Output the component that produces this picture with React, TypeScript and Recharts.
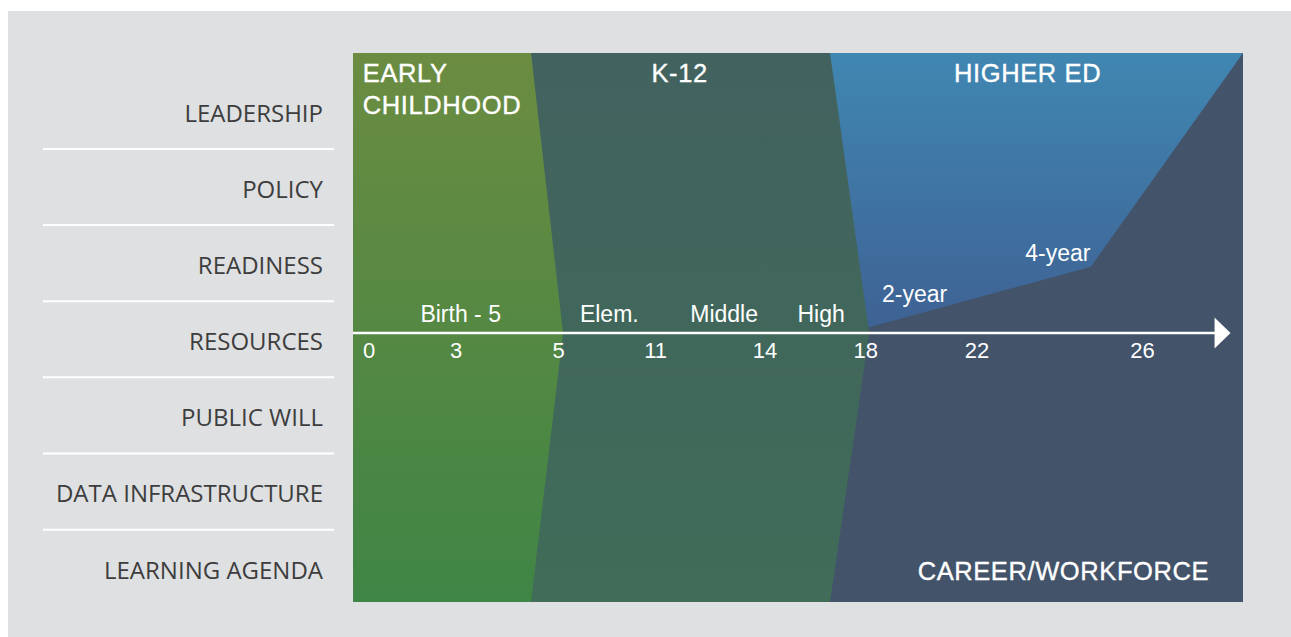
import React from 'react';
import { ComposedChart, Area, Scatter, XAxis, YAxis, ReferenceLine, ReferenceArea } from 'recharts';

// Left-hand rows
const rowLabels = ['LEADERSHIP', 'POLICY', 'READINESS', 'RESOURCES', 'PUBLIC WILL', 'DATA INFRASTRUCTURE', 'LEARNING AGENDA'];

// Timeline: 0 = left edge of the diagram, 100 = right edge
const ageLabels = ['0', '3', '5', '11', '14', '18', '22', '26'];
const agePos = [1.8, 11.6, 23.1, 34.0, 46.3, 57.6, 70.1, 88.7];

const stageLabels = ['Birth - 5', 'Elem.', 'Middle', 'High'];
const stagePos = [12.1, 28.8, 41.7, 52.6];

const trackLabels = ['2-year', '4-year'];
const trackPos = [63.1, 79.2];
const trackLevel = [11.1, 25.8];

// Vertical level: 100 = top, 0 = timeline, -96 = bottom
// Each sector is a band [low, high] at a few timeline positions
const earlyPos = [0, 20.0, 23.6];
const earlyLow = [-96, -96, 0];
const earlyHigh = [100, 100, 0];

const k12Pos = [0, 53.6, 58.0];
const k12Low = [-96, -96, 0];
const k12High = [100, 100, 0];

const higherEdPos = [53.6, 58.0, 82.9, 100];
const higherEdLow = [2.1, 2.1, 23.7, 100];
const higherEdHigh = [100, 100, 100, 100];

const sectorLabels = ['EARLY', 'CHILDHOOD', 'K-12', 'HIGHER ED', 'CAREER/WORKFORCE'];
const sectorPos = [1.1, 1.1, 36.7, 75.8, 96.2];
const sectorLevel = [89.8, 78.4, 89.8, 89.8, -88.0];
const sectorAnchor = ['start', 'start', 'middle', 'middle', 'end'];

const toBand = (pos: number[], low: number[], high: number[]) =>
  pos.map((p, i) => ({ pos: p, band: [low[i], high[i]] }));

const earlyData = toBand(earlyPos, earlyLow, earlyHigh);
const k12Data = toBand(k12Pos, k12Low, k12High);
const higherEdData = toBand(higherEdPos, higherEdLow, higherEdHigh);

const textPoints = [
  ...ageLabels.map((text, i) => ({ pos: agePos[i], level: 0, text, kind: 'age', anchor: 'middle' })),
  ...stageLabels.map((text, i) => ({ pos: stagePos[i], level: 0, text, kind: 'stage', anchor: 'middle' })),
  ...trackLabels.map((text, i) => ({ pos: trackPos[i], level: trackLevel[i], text, kind: 'track', anchor: 'middle' })),
  ...sectorLabels.map((text, i) => ({ pos: sectorPos[i], level: sectorLevel[i], text, kind: 'sector', anchor: sectorAnchor[i] })),
];

const rowTicks = rowLabels.flatMap((_, i) => (i < rowLabels.length - 1 ? [i, i + 0.47] : [i]));

const FONT = '"Liberation Sans", Arial, Helvetica, sans-serif';

const RowTick = (props: any) => {
  const { x, y, payload } = props;
  const v = payload.value;
  if (Number.isInteger(v)) {
    return (
      <text x={x} y={y} dy={8.5} textAnchor="end" fill="#3d3d3d" fontSize={24} fontFamily='"Open Sans", sans-serif'>
        {rowLabels[v]}
      </text>
    );
  }
  return <line x1={x - 280} x2={x + 11} y1={y} y2={y} stroke="#ffffff" strokeWidth={2} />;
};

const LabelShape = (props: any) => {
  const { cx, cy, payload } = props;
  const big = payload.kind === 'sector';
  const dy = payload.kind === 'age' ? 25 : payload.kind === 'stage' ? -11 : 0;
  const size = big ? 25.5 : payload.kind === 'age' ? 22 : 23;
  return (
    <text
      x={cx}
      y={cy + dy}
      textAnchor={payload.anchor}
      fill="#ffffff"
      stroke={big ? '#ffffff' : 'none'}
      strokeWidth={big ? 0.35 : 0}
      letterSpacing={big ? 0.6 : 0}
      fontSize={size}
      fontFamily={FONT}
    >
      {payload.text}
    </text>
  );
};

const ArrowAxis = (props: any) => {
  const { x1, y1, x2, y2 } = props;
  return (
    <g>
      <line x1={x1} y1={y1} x2={x2 - 15} y2={y2} stroke="#ffffff" strokeWidth={2.5} />
      <polygon points={`${x2 - 16},${y2 - 15.5} ${x2},${y2} ${x2 - 16},${y2 + 15.5}`} fill="#ffffff" />
    </g>
  );
};

export default function App() {
  return (
    <div style={{ position: 'relative', width: 1291, height: 637, background: '#ffffff', overflow: 'hidden' }}>
      <style>{'body{margin:0}'}</style>
      <div style={{ position: 'absolute', left: 8, top: 11, width: 1283, height: 626, background: '#dfe0e2' }}>
        <ComposedChart width={1283} height={626} margin={{ top: 42, right: 48, bottom: 35, left: 0 }}>
          <defs>
            <linearGradient id="gEarly" x1="0" y1="0" x2="0" y2="1">
              <stop offset="0%" stopColor="#6b8c41" />
              <stop offset="100%" stopColor="#3f8545" />
            </linearGradient>
            <linearGradient id="gK12" x1="0" y1="0" x2="0" y2="1">
              <stop offset="0%" stopColor="#42625f" />
              <stop offset="100%" stopColor="#406c58" />
            </linearGradient>
            <linearGradient id="gHigher" x1="0" y1="0" x2="0" y2="1">
              <stop offset="0%" stopColor="#4087b2" />
              <stop offset="100%" stopColor="#3e6294" />
            </linearGradient>
          </defs>
          <XAxis type="number" dataKey="pos" domain={[0, 100]} allowDataOverflow hide />
          <YAxis type="number" domain={[-96, 100]} allowDataOverflow hide width={0} />
          <YAxis
            yAxisId="rows"
            type="number"
            domain={[-0.79, 6.42]}
            allowDataOverflow
            reversed
            ticks={rowTicks}
            interval={0}
            width={345}
            axisLine={false}
            tickLine={false}
            tickSize={0}
            tickMargin={30}
            tick={<RowTick />}
          />
          <ReferenceArea x1={0} x2={100} y1={-96} y2={100} fill="#42536a" fillOpacity={1} stroke="none" ifOverflow="extendDomain" />
          <Area data={higherEdData} dataKey="band" type="linear" fill="url(#gHigher)" fillOpacity={1} stroke="none" dot={false} activeDot={false} isAnimationActive={false} />
          <Area data={k12Data} dataKey="band" type="linear" fill="url(#gK12)" fillOpacity={1} stroke="none" dot={false} activeDot={false} isAnimationActive={false} />
          <Area data={earlyData} dataKey="band" type="linear" fill="url(#gEarly)" fillOpacity={1} stroke="none" dot={false} activeDot={false} isAnimationActive={false} />
          <ReferenceLine segment={[{ x: 0, y: 0 }, { x: 98.6, y: 0 }]} shape={<ArrowAxis />} />
          <Scatter data={textPoints} dataKey="level" shape={<LabelShape />} isAnimationActive={false} />
        </ComposedChart>
      </div>
    </div>
  );
}
